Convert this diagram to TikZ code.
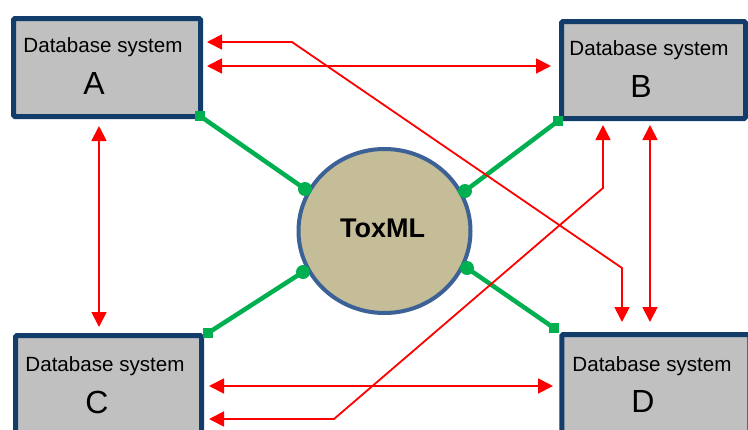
\documentclass[tikz,border=0pt]{standalone}
\usepackage{fontspec}
\setmainfont{Liberation Sans}
\usetikzlibrary{arrows.meta,shapes.geometric}
\definecolor{boxfill}{HTML}{C0C0C0}
\definecolor{boxline}{HTML}{123D6A}
\definecolor{toxfill}{HTML}{C4BD97}
\definecolor{toxline}{HTML}{3B6196}
\definecolor{linkgreen}{HTML}{00B050}
\definecolor{arrowred}{HTML}{FF0000}
\begin{document}
\begin{tikzpicture}[x=1pt,y=-1pt,
  dbbox/.style={draw=boxline, fill=boxfill, line width=5pt, rounded corners=1.5pt, inner sep=0pt, outer sep=0pt},
  dbtext/.style={anchor=base, inner sep=0pt, font=\fontsize{20.6}{24}\selectfont},
  dbletter/.style={anchor=base, inner sep=0pt, font=\fontsize{32}{36}\selectfont},
  hub/.style={ellipse, draw=toxline, fill=toxfill, line width=4pt, minimum width=172pt, minimum height=164pt, inner sep=0pt},
  hubtext/.style={anchor=base, inner sep=0pt, font=\fontsize{27}{30}\selectfont\bfseries},
  greenlink/.style={draw=linkgreen, line width=4.5pt},
  gdot/.style={circle, fill=linkgreen, minimum size=14pt, inner sep=0pt},
  gsq/.style={rectangle, fill=linkgreen, minimum size=10pt, inner sep=0pt},
  redarrow/.style={draw=arrowred, line width=1.8pt, line join=miter,
    arrows={Triangle[length=15pt,width=15pt,fill=arrowred]-Triangle[length=15pt,width=15pt,fill=arrowred]}}
]
\useasboundingbox (0,0) rectangle (748,429);
\fill[white] (0,0) rectangle (748,429);
\clip (0,0) rectangle (748,429);

% boxes
\node[dbbox, minimum width=187pt, minimum height=98pt] (A) at (107,67.5) {};
\node[dbbox, minimum width=184pt, minimum height=97pt] (B) at (653.5,70) {};
\node[dbbox, minimum width=186pt, minimum height=100pt] (C) at (108.5,385.5) {};
\node[dbbox, minimum width=188pt, minimum height=100pt] (D) at (655.75,384.5) {};

\node[dbtext] (At) at (103,52) {Database system};
\node[dbletter] (Al) at (94,94) {A};
\node[dbtext] (Bt) at (649,55) {Database system};
\node[dbletter] (Bl) at (641,97) {B};
\node[dbtext] (Ct) at (105,371) {Database system};
\node[dbletter] (Cl) at (97,413) {C};
\node[dbtext] (Dt) at (652,371) {Database system};
\node[dbletter] (Dl) at (643,412) {D};

% hub
\node[hub] (X) at (384.5,231) {};
\node[hubtext] (Xt) at (382.5,237) {ToxML};

% green links
\node[gsq] (Aq) at (200,116) {};
\node[gsq] (Bq) at (558,121) {};
\node[gsq] (Cq) at (208,333) {};
\node[gsq] (Dq) at (554,328) {};
\node[gdot] (Ad) at (305,189) {};
\node[gdot] (Bd) at (465,191) {};
\node[gdot] (Cd) at (303,272) {};
\node[gdot] (Dd) at (467,268) {};
\draw[greenlink] (Aq.center) -- (Ad.center);
\draw[greenlink] (Bq.center) -- (Bd.center);
\draw[greenlink] (Cq.center) -- (Cd.center);
\draw[greenlink] (Dq.center) -- (Dd.center);

% red arrow end points
\coordinate (ab1) at (207,66);
\coordinate (ab2) at (551,66);
\coordinate (ad1) at (207,42);
\coordinate (ad2) at (622,322);
\coordinate (bd1) at (650,125);
\coordinate (bd2) at (650,322);
\coordinate (bc1) at (603,125);
\coordinate (bc2) at (209,419);
\coordinate (ac1) at (99,126);
\coordinate (ac2) at (99,327);
\coordinate (cd1) at (209,386);
\coordinate (cd2) at (553,386);

\draw[redarrow] (ab1) -- (ab2);
\draw[redarrow] (ad1) -- (292,42) -- (622,268) -- (ad2);
\draw[redarrow] (bd1) -- (bd2);
\draw[redarrow] (bc1) -- (603,188) -- (334,419) -- (bc2);
\draw[redarrow] (ac1) -- (ac2);
\draw[redarrow] (cd1) -- (cd2);
\end{tikzpicture}
\end{document}
